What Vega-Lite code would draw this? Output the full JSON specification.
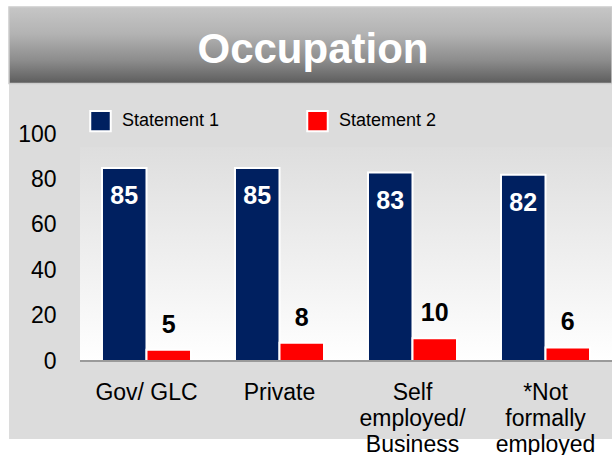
{
  "$schema": "https://vega.github.io/schema/vega-lite/v6.json",
  "width": 603,
  "height": 432,
  "autosize": {"type": "none"},
  "padding": {"left": 9, "top": 7, "right": 0, "bottom": 16},
  "background": "white",
  "config": {"view": {"fill": "#dcdcdc", "stroke": null}, "font": "Liberation Sans"},
  "datasets": {
    "bars": [
      {"occupation": "Gov/ GLC", "series": "Statement 1", "value": 85},
      {"occupation": "Gov/ GLC", "series": "Statement 2", "value": 5},
      {"occupation": "Private", "series": "Statement 1", "value": 85},
      {"occupation": "Private", "series": "Statement 2", "value": 8},
      {"occupation": "Self employed/ Business", "series": "Statement 1", "value": 83},
      {"occupation": "Self employed/ Business", "series": "Statement 2", "value": 10},
      {"occupation": "*Not formally employed", "series": "Statement 1", "value": 82},
      {"occupation": "*Not formally employed", "series": "Statement 2", "value": 6}
    ],
    "banner": [{"title": "Occupation"}]
  },
  "data": {"name": "bars"},
  "layer": [
    {
      "data": {"name": "banner"},
      "mark": {
        "type": "rect",
        "stroke": "#cccccc",
        "strokeWidth": 1.5,
        "color": {
          "gradient": "linear", "x1": 0, "y1": 0, "x2": 0, "y2": 1,
          "stops": [
            {"offset": 0, "color": "#c6c6c6"},
            {"offset": 0.35, "color": "#b3b3b3"},
            {"offset": 0.7, "color": "#8c8c8c"},
            {"offset": 1, "color": "#5c5c5c"}
          ]
        }
      },
      "encoding": {
        "y": {"datum": 155.95, "type": "quantitative", "title": null},
        "y2": {"datum": 122.2}
      }
    },
    {
      "data": {"name": "banner"},
      "mark": {"type": "text", "color": "white", "fontSize": 42, "fontWeight": "bold", "baseline": "alphabetic", "align": "center", "dx": 2.5},
      "encoding": {
        "y": {"datum": 131.3, "type": "quantitative", "title": null},
        "text": {"field": "title"}
      }
    },
    {
      "transform": [{"filter": "datum.series == 'Statement 1'"}],
      "mark": {
        "type": "rect",
        "color": {
          "gradient": "linear", "x1": 0, "y1": 0, "x2": 0, "y2": 1,
          "stops": [
            {"offset": 0, "color": "#dedede"},
            {"offset": 1, "color": "#ffffff"}
          ]
        }
      },
      "encoding": {
        "x": {"field": "occupation", "type": "nominal", "sort": null, "title": null},
        "y": {"datum": 0, "type": "quantitative", "title": null},
        "y2": {"datum": 94.3}
      }
    },
    {
      "mark": {"type": "bar", "stroke": "white", "strokeWidth": 2},
      "encoding": {
        "x": {
          "field": "occupation", "type": "nominal", "sort": null, "title": null,
          "scale": {"paddingInner": 0, "paddingOuter": 0.2669, "align": 1, "round": true},
          "axis": {
            "orient": "bottom", "domain": false, "ticks": false, "tickSize": 0, "grid": false,
            "labelFontSize": 23, "labelColor": "black", "labelFont": "Liberation Sans",
            "labelPadding": 20, "offset": -78, "labelAngle": 0, "labelLineHeight": 26,
            "labelAlign": "center", "labelBaseline": "top", "labelOverlap": false, "labelBound": false, "labelLimit": 300,
            "labelExpr": "datum.value == 'Self employed/ Business' ? ['Self', 'employed/', 'Business'] : datum.value == '*Not formally employed' ? ['*Not', 'formally', 'employed'] : datum.label"
          }
        },
        "xOffset": {
          "field": "series", "type": "nominal",
          "scale": {"domain": ["Statement 1", "Statement 2"], "paddingInner": 0, "paddingOuter": 0.494}
        },
        "y": {
          "field": "value", "type": "quantitative", "stack": null, "title": null,
          "scale": {"domain": [-34.36, 155.95], "nice": false, "zero": false},
          "axis": {
            "values": [0, 20, 40, 60, 80, 100], "domain": false, "ticks": false, "tickSize": 0, "grid": false,
            "labelFontSize": 23, "labelColor": "black", "labelFont": "Liberation Sans",
            "labelPadding": 0, "offset": -47
          }
        },
        "color": {
          "field": "series", "type": "nominal",
          "scale": {"domain": ["Statement 1", "Statement 2"], "range": ["#002060", "#ff0000"]},
          "legend": {
            "orient": "none", "legendX": 80, "legendY": 102.5, "direction": "horizontal",
            "title": null, "symbolType": "square", "symbolSize": 420,
            "symbolStrokeColor": "white", "symbolStrokeWidth": 2, "symbolOpacity": 1,
            "labelFontSize": 18, "labelColor": "black", "labelFont": "Liberation Sans",
            "labelOffset": 10, "columnPadding": 83, "padding": 0
          }
        }
      }
    },
    {
      "transform": [{"filter": "datum.series == 'Statement 1'"}],
      "mark": {"type": "rect", "color": "#9a9a9a"},
      "encoding": {
        "x": {"field": "occupation", "type": "nominal", "sort": null, "title": null},
        "y": {"datum": 0.44, "type": "quantitative", "title": null},
        "y2": {"datum": -0.44}
      }
    },
    {
      "transform": [{"filter": "datum.series == 'Statement 1'"}],
      "mark": {"type": "text", "color": "white", "fontSize": 25, "fontWeight": "bold", "baseline": "alphabetic", "align": "center", "dy": 36},
      "encoding": {
        "x": {"field": "occupation", "type": "nominal", "sort": null, "title": null},
        "xOffset": {"field": "series", "type": "nominal"},
        "y": {"field": "value", "type": "quantitative", "title": null},
        "text": {"field": "value", "type": "quantitative"}
      }
    },
    {
      "transform": [{"filter": "datum.series == 'Statement 2'"}],
      "mark": {"type": "text", "color": "black", "fontSize": 25, "fontWeight": "bold", "baseline": "alphabetic", "align": "center", "dy": -17},
      "encoding": {
        "x": {"field": "occupation", "type": "nominal", "sort": null, "title": null},
        "xOffset": {"field": "series", "type": "nominal"},
        "y": {"field": "value", "type": "quantitative", "title": null},
        "text": {"field": "value", "type": "quantitative"}
      }
    }
  ]
}
